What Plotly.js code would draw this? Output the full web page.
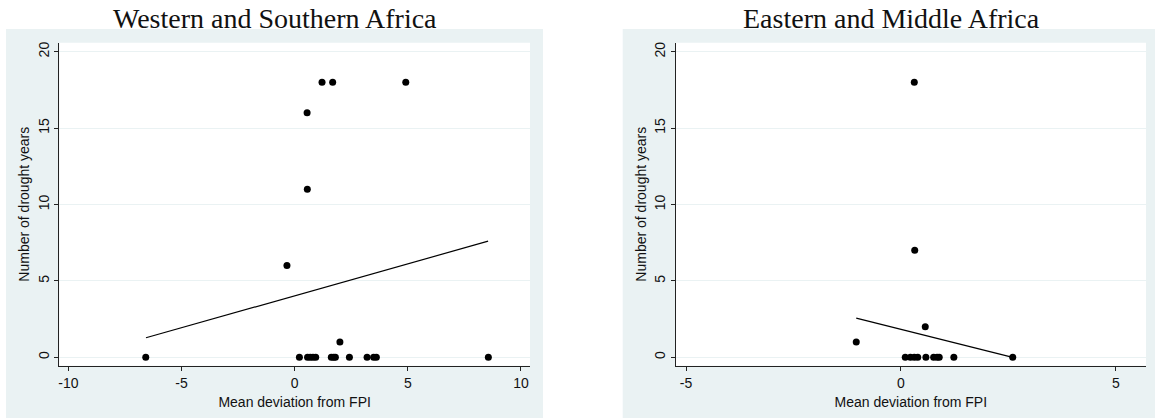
<!DOCTYPE html>
<html>
<head>
<meta charset="utf-8">
<script src="https://cdn.plot.ly/plotly-3.0.1.min.js"></script>
<style>html,body{margin:0;padding:0;background:#fff;}#chart{width:1155px;height:419px;}</style>
</head>
<body>
<div id="chart"></div>
<script>
// Western and Southern Africa
const westX = [-6.58, 0.21, 0.57, 0.69, 0.81, 0.93, 1.62, 1.72, 1.80, 2.42, 3.20, 3.49, 3.61, 8.56, 2.00, -0.34, 0.56, 0.55, 1.21, 1.68, 4.91];
const westY = [0, 0, 0, 0, 0, 0, 0, 0, 0, 0, 0, 0, 0, 0, 1, 6, 11, 16, 18, 18, 18];
const westFitX = [-6.57, 8.55];
const westFitY = [1.28, 7.60];
// Eastern and Middle Africa
const eastX = [0.10, 0.22, 0.31, 0.39, 0.58, 0.76, 0.84, 0.89, 1.23, 2.60, -1.04, 0.565, 0.32, 0.31];
const eastY = [0, 0, 0, 0, 0, 0, 0, 0, 0, 0, 1, 2, 7, 18];
const eastFitX = [-1.04, 2.60];
const eastFitY = [2.56, 0.00];

const panelTitles = ["Western and Southern Africa", "Eastern and Middle Africa"];
const xTitle = "Mean deviation from FPI";
const yTitle = "Number of drought years";
const westXTicks = [-10, -5, 0, 5, 10];
const eastXTicks = [-5, 0, 5];
const yTicks = [0, 5, 10, 15, 20];

const W = 1155, H = 419;
const px = v => v / W;
const py = v => 1 - v / H;

const bg = '#EAF2F3';
const axisCol = '#222222';
const sans = 'Liberation Sans, Arial, sans-serif';

function marker() { return {color: '#000', size: 7, symbol: 'circle'}; }

const traces = [
  {x: westX, y: westY, type: 'scatter', mode: 'markers', marker: marker(), xaxis: 'x', yaxis: 'y', showlegend: false, cliponaxis: false},
  {x: westFitX, y: westFitY, type: 'scatter', mode: 'lines', line: {color: '#000', width: 1.2}, xaxis: 'x', yaxis: 'y', showlegend: false},
  {x: eastX, y: eastY, type: 'scatter', mode: 'markers', marker: marker(), xaxis: 'x2', yaxis: 'y2', showlegend: false, cliponaxis: false},
  {x: eastFitX, y: eastFitY, type: 'scatter', mode: 'lines', line: {color: '#000', width: 1.2}, xaxis: 'x2', yaxis: 'y2', showlegend: false}
];

function xAxis(domain, range, ticks, anchor) {
  return {
    domain: domain, range: range, anchor: anchor,
    tickmode: 'array', tickvals: ticks, ticktext: ticks.map(String),
    ticks: 'outside', ticklen: 4, tickwidth: 1, tickcolor: axisCol,
    showline: true, linecolor: axisCol, linewidth: 1,
    showgrid: false, zeroline: false,
    tickfont: {family: sans, size: 14, color: '#111'},
    title: {text: xTitle, font: {family: sans, size: 14, color: '#111'}, standoff: 7}
  };
}
function yAxis(domain, anchor) {
  return {
    domain: domain, range: [-0.55, 20.59], anchor: anchor,
    tickmode: 'array', tickvals: yTicks, ticktext: yTicks.map(String),
    tickangle: -90,
    ticks: 'outside', ticklen: 4, tickwidth: 1, tickcolor: axisCol,
    showline: true, linecolor: axisCol, linewidth: 1,
    showgrid: true, gridcolor: bg, gridwidth: 1, zeroline: false,
    tickfont: {family: sans, size: 14, color: '#111'},
    title: {text: yTitle, font: {family: sans, size: 14, color: '#111'}, standoff: 2}
  };
}

const yDom = [py(365.7), py(42.7)];
const xDomW = [px(59.3), px(530)];
const xDomE = [px(675.7), px(1146)];
const layout = {
  width: W, height: H, autosize: false,
  margin: {l: 0, r: 0, t: 0, b: 0, pad: 0},
  paper_bgcolor: '#ffffff', plot_bgcolor: '#ffffff',
  showlegend: false,
  xaxis: xAxis(xDomW, [-10.4, 10.4], westXTicks, 'y'),
  yaxis: yAxis(yDom, 'x'),
  xaxis2: xAxis(xDomE, [-5.24, 5.70], eastXTicks, 'y2'),
  yaxis2: yAxis(yDom, 'x2'),
  shapes: [
    {type: 'rect', xref: 'paper', yref: 'paper', x0: px(6), x1: px(543), y0: py(418), y1: py(29), fillcolor: bg, line: {width: 0}, layer: 'below'},
    {type: 'rect', xref: 'paper', yref: 'paper', x0: px(622.7), x1: 1.01, y0: py(418), y1: py(29), fillcolor: bg, line: {width: 0}, layer: 'below'},
    {type: 'rect', xref: 'paper', yref: 'paper', x0: xDomW[0], x1: xDomW[1], y0: yDom[0], y1: yDom[1], fillcolor: '#ffffff', line: {width: 0}, layer: 'below'},
    {type: 'rect', xref: 'paper', yref: 'paper', x0: xDomE[0], x1: xDomE[1], y0: yDom[0], y1: yDom[1], fillcolor: '#ffffff', line: {width: 0}, layer: 'below'}
  ],
  annotations: [
    {text: panelTitles[0], xref: 'paper', yref: 'paper', x: px(275), y: py(18), xanchor: 'center', yanchor: 'middle', showarrow: false, font: {family: 'Liberation Serif, serif', size: 28, color: '#111'}},
    {text: panelTitles[1], xref: 'paper', yref: 'paper', x: px(891), y: py(18), xanchor: 'center', yanchor: 'middle', showarrow: false, font: {family: 'Liberation Serif, serif', size: 28, color: '#111'}}
  ]
};

Plotly.newPlot('chart', traces, layout, {staticPlot: true, displayModeBar: false});
</script>
</body>
</html>
